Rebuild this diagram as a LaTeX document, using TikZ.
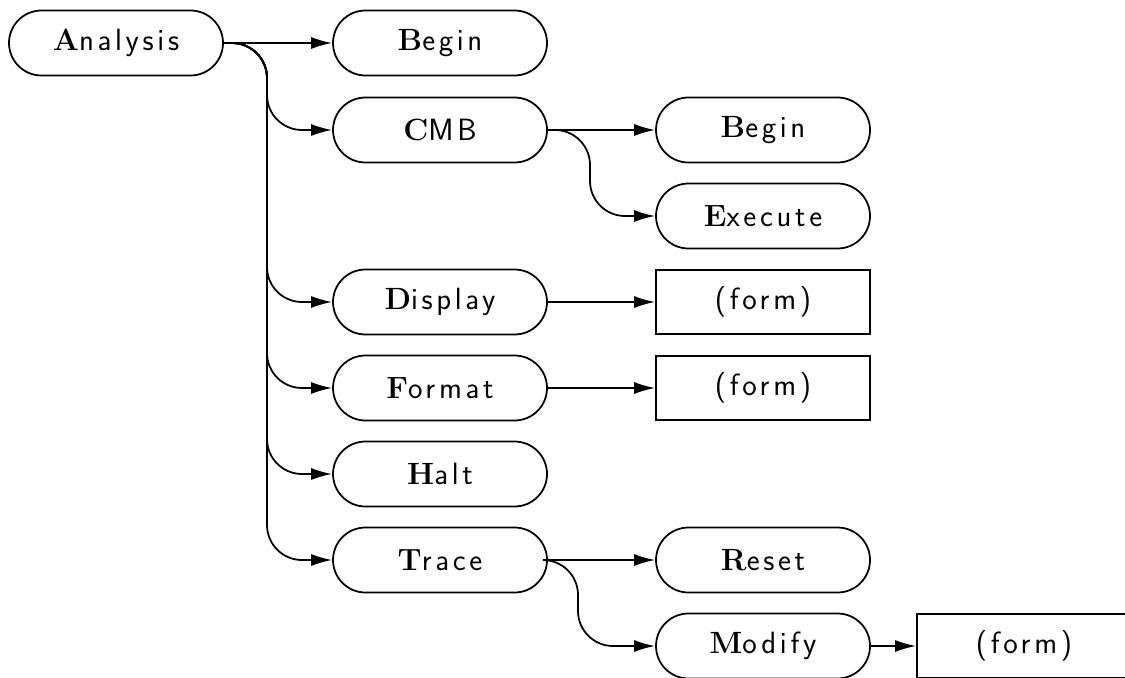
\documentclass[tikz,border=0pt]{standalone}
\usepackage{fontspec}
\setsansfont[LetterSpace=12]{Latin Modern Sans}
\usetikzlibrary{arrows.meta}

\newcommand{\ini}[1]{{\rmfamily\bfseries #1}}

\begin{document}
\begin{tikzpicture}[
  pill/.style={draw, line width=1pt, rounded corners=0.65cm, minimum width=4.28cm,
               minimum height=1.3cm, align=center, font=\sffamily\fontsize{17.5}{20}\selectfont},
  formbox/.style={draw, line width=1pt, minimum width=4.28cm, minimum height=1.28cm,
               align=center, font=\sffamily\fontsize{17.5}{20}\selectfont},
  arr/.style={-{Latex[length=0.42cm, width=0.24cm]}, line width=1pt, rounded corners=0.7cm},
]
\clip (0,0) rectangle (22.5,-13.54);
\fill[white] (0,0) rectangle (22.5,-13.54);

% --- Root ---
\node[pill] (ana) at (2.32,-0.86) {\ini{A}nalysis};

% --- Second column ---
\node[pill] (beg) at (8.8,-0.86) {\ini{B}egin};
\node[pill] (cmb) at (8.8,-2.6) {\ini{C}MB};
\node[pill] (disp) at (8.8,-6.04) {\ini{D}isplay};
\node[pill] (fmt) at (8.8,-7.76) {\ini{F}ormat};
\node[pill] (halt) at (8.8,-9.48) {\ini{H}alt};
\node[pill] (trace) at (8.8,-11.2) {\ini{T}race};

% --- Third column ---
\node[pill] (cbeg) at (15.26,-2.6) {\ini{B}egin};
\node[pill] (exe) at (15.26,-4.32) {\ini{E}xecute};
\node[formbox] (dform) at (15.26,-6.04) {(form)};
\node[formbox] (fform) at (15.26,-7.76) {(form)};
\node[pill] (reset) at (15.26,-11.2) {\ini{R}eset};
\node[pill] (mod) at (15.26,-12.92) {\ini{M}odify};

% --- Fourth column ---
\node[formbox] (mform) at (20.48,-12.92) {(form)};

% --- Trunk lines ---
\coordinate (t1) at (5.34,0);
\coordinate (t2) at (11.8,0);
\coordinate (t3) at (11.56,0);

\draw[arr] (ana) -- (beg);
\draw[arr] (ana.east) -| (cmb.west -| t1) -- (cmb.west);
\draw[arr] (ana.east) -| (disp.west -| t1) -- (disp.west);
\draw[arr] (ana.east) -| (fmt.west -| t1) -- (fmt.west);
\draw[arr] (ana.east) -| (halt.west -| t1) -- (halt.west);
\draw[arr] (ana.east) -| (trace.west -| t1) -- (trace.west);

\draw[arr] (cmb) -- (cbeg);
\draw[arr] (cmb.east) -| (exe.west -| t2) -- (exe.west);

\draw[arr] (disp) -- (dform);
\draw[arr] (fmt) -- (fform);

\draw[arr] (trace) -- (reset);
\draw[arr] (trace.east) -| (mod.west -| t3) -- (mod.west);

\draw[arr] (mod) -- (mform);
\end{tikzpicture}
\end{document}
